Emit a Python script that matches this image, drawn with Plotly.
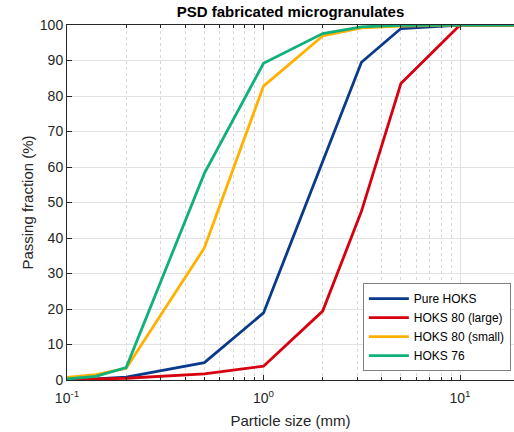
import plotly.graph_objects as go

sizes_mm = [0.1, 0.14, 0.2, 0.5, 1, 2, 3.15, 5, 10, 20]
pure_hoks = [0.1, 0.3, 0.8, 4.9, 18.9, 61.5, 89.5, 99.0, 100, 100]
hoks80_large = [0.0, 0.2, 0.5, 1.7, 3.9, 19.4, 47.5, 83.5, 100, 100]
hoks80_small = [0.7, 1.5, 3.3, 37.2, 82.8, 96.9, 99.2, 99.7, 100, 100]
hoks76 = [0.3, 1.0, 3.5, 58.2, 89.2, 97.6, 99.5, 99.9, 100, 100]

series_names = ["Pure HOKS", "HOKS 80 (large)", "HOKS 80 (small)", "HOKS 76"]
series_values = [pure_hoks, hoks80_large, hoks80_small, hoks76]
series_colors = ["#0a3a8a", "#d7000f", "#ffb000", "#10b07a"]

major_x = [0.1, 1, 10]
major_x_text = ["10<sup>-1</sup>", "10<sup>0</sup>", "10<sup>1</sup>"]
minor_x = [k * 0.1 for k in range(2, 10)] + list(range(2, 10)) + [20]
y_ticks = list(range(0, 101, 10))

fig = go.Figure()
for name, vals, col in zip(series_names, series_values, series_colors):
    fig.add_trace(go.Scatter(x=sizes_mm, y=vals, mode="lines", name=name,
                             line=dict(color=col, width=2.8)))

font_fam = "Liberation Sans, Arial, sans-serif"
fig.update_layout(
    width=514, height=432,
    margin=dict(l=67, r=0, t=25, b=52),
    paper_bgcolor="white", plot_bgcolor="white",
    font=dict(family=font_fam, color="#262626"),
    title=dict(text="<b>PSD fabricated microgranulates</b>", x=(67 + 514) / 2 / 514,
               xanchor="center", y=1 - 12 / 432, yanchor="middle",
               font=dict(size=15, color="black")),
    showlegend=True,
    legend=dict(x=0.993, y=0.025, xanchor="right", yanchor="bottom",
                bgcolor="white", bordercolor="#808080", borderwidth=1,
                font=dict(size=12, color="black"), tracegroupgap=0,
                itemwidth=40),
)
fig.update_xaxes(
    type="log", range=[-1, 1 + (514 - 460) / 196.7],
    tickmode="array", tickvals=major_x, ticktext=major_x_text,
    tickfont=dict(size=14), ticks="inside", ticklen=5, tickcolor="#262626",
    ticklabelstandoff=5,
    showline=True, linecolor="#262626", linewidth=1, mirror="ticks",
    showgrid=True, gridcolor="#e2e2e2", gridwidth=1,
    minor=dict(tickmode="array", tickvals=minor_x, ticks="inside", ticklen=3,
               tickcolor="#262626", showgrid=True, gridcolor="#d8d8d8",
               griddash="dot", gridwidth=1),
    title=dict(text="Particle size (mm)", font=dict(size=15), standoff=10),
    zeroline=False,
)
fig.update_yaxes(
    range=[0, 100], tickmode="array", tickvals=y_ticks,
    tickfont=dict(size=14), ticks="inside", ticklen=5, tickcolor="#262626",
    showline=True, linecolor="#262626", linewidth=1,
    showgrid=True, gridcolor="#e2e2e2", gridwidth=1,
    title=dict(text="Passing fraction (%)", font=dict(size=15), standoff=2),
    zeroline=False,
)
fig.write_html("out.html")
